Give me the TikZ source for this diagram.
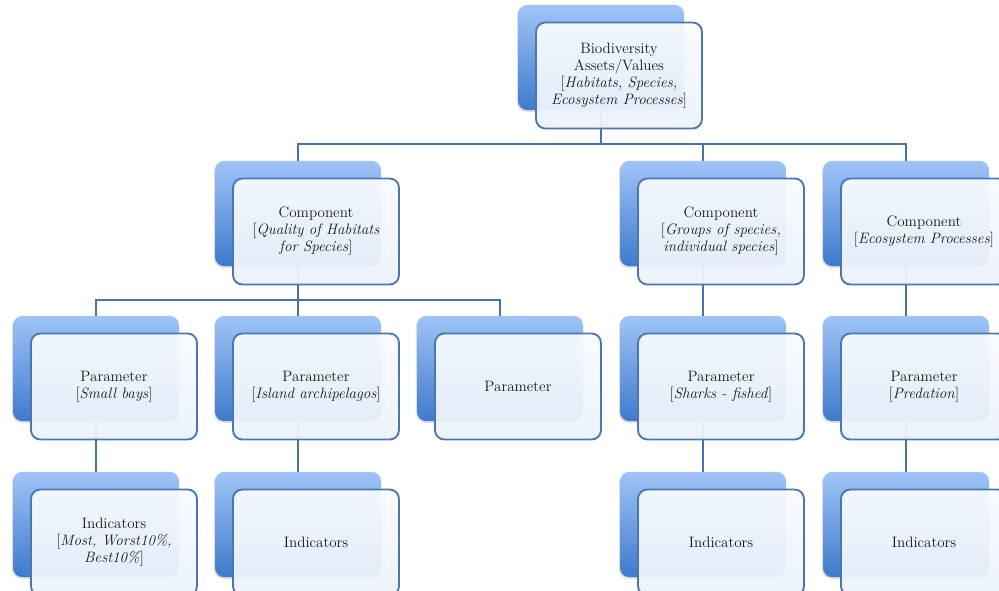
\documentclass[tikz,border=0pt]{standalone}
\usetikzlibrary{backgrounds,shadows}
\definecolor{boxEdge}{RGB}{74,118,178}
\definecolor{boxTop}{RGB}{160,196,248}
\definecolor{boxBottom}{RGB}{62,122,204}
\definecolor{paneTop}{RGB}{248,251,255}
\definecolor{paneBottom}{RGB}{236,242,251}
\definecolor{linkBlue}{RGB}{72,112,170}
\newcommand\boxShift{18}
\tikzset{
    backBox/.style={rounded corners=7pt, minimum width=124.5pt, minimum height=79pt, inner sep=0pt,
        top color=boxTop, bottom color=boxBottom,
        drop shadow={shadow xshift=-0.8pt, shadow yshift=-1.2pt, opacity=0.25}},
    frontBox/.style={rounded corners=7pt, minimum width=124.5pt, minimum height=79.5pt, inner sep=0pt,
        draw=boxEdge, line width=1.4pt, top color=paneTop, bottom color=paneBottom,
        fill opacity=0.94, text opacity=1, align=center, text=black!90,
        font=\fontsize{11.3}{12.8}\selectfont},
    link/.style={draw=linkBlue, line width=1.4pt}
}

\begin{document}
\begin{tikzpicture}[x=0.75pt, y=-0.75pt]
    \useasboundingbox (0,0) rectangle (999,591);
    \def\assetBox[#1,#2,#3]#4{% Back panel with shading and front panel carrying the text
        \node [backBox] (#1-b) at (#2,#3) {};
        \node [frontBox] (#1) at (#2+\boxShift,#3+\boxShift) {#4};
    }
    % Draw the top asset box
    \assetBox[top,601,57.5]{Biodiversity\\Assets/Values\\{[}\textit{Habitats, Species,}\\\textit{Ecosystem Processes}]}
    % Draw the components
    \assetBox[comp1,298,213.5]{Component\\{[}\textit{Quality of Habitats}\\\textit{for Species}]}
    \assetBox[comp4,703,213.5]{Component\\{[}\textit{Groups of species,}\\\textit{individual species}]}
    \assetBox[comp5,906,213.5]{Component\\{[}\textit{Ecosystem Processes}]}
    % Draw the parameters
    \assetBox[param1,96,368.5]{Parameter\\{[}\textit{Small bays}]}
    \assetBox[param2,298,368.5]{Parameter\\{[}\textit{Island archipelagos}]}
    \assetBox[param3,500,368.5]{Parameter}
    \assetBox[param4,703,368.5]{Parameter\\{[}\textit{Sharks - fished}]}
    \assetBox[param5,906,368.5]{Parameter\\{[}\textit{Predation}]}
    % Draw the indicators
    \assetBox[ind1,96,524.5]{Indicators\\{[}\textit{Most, Worst10\%,}\\\textit{Best10\%}]}
    \foreach \n/\x in {ind2/298, ind4/703, ind5/906}
        \assetBox[\n,\x,524.5]{Indicators};
    % Connectors behind the boxes
    \begin{scope}[on background layer]
        \foreach \c in {comp1, comp4, comp5}
            \draw [link] (top-b.south) -- ++(0,34) -| (\c-b.north);
        \foreach \p in {param1, param2, param3}
            \draw [link] (comp1-b.south) -- ++(0,34) -| (\p-b.north);
        \foreach \up/\dn in {comp4/param4, comp5/param5, param1/ind1, param2/ind2, param4/ind4, param5/ind5}
            \draw [link] (\up-b.south) -- (\dn-b.north);
    \end{scope}
\end{tikzpicture}
\end{document}
